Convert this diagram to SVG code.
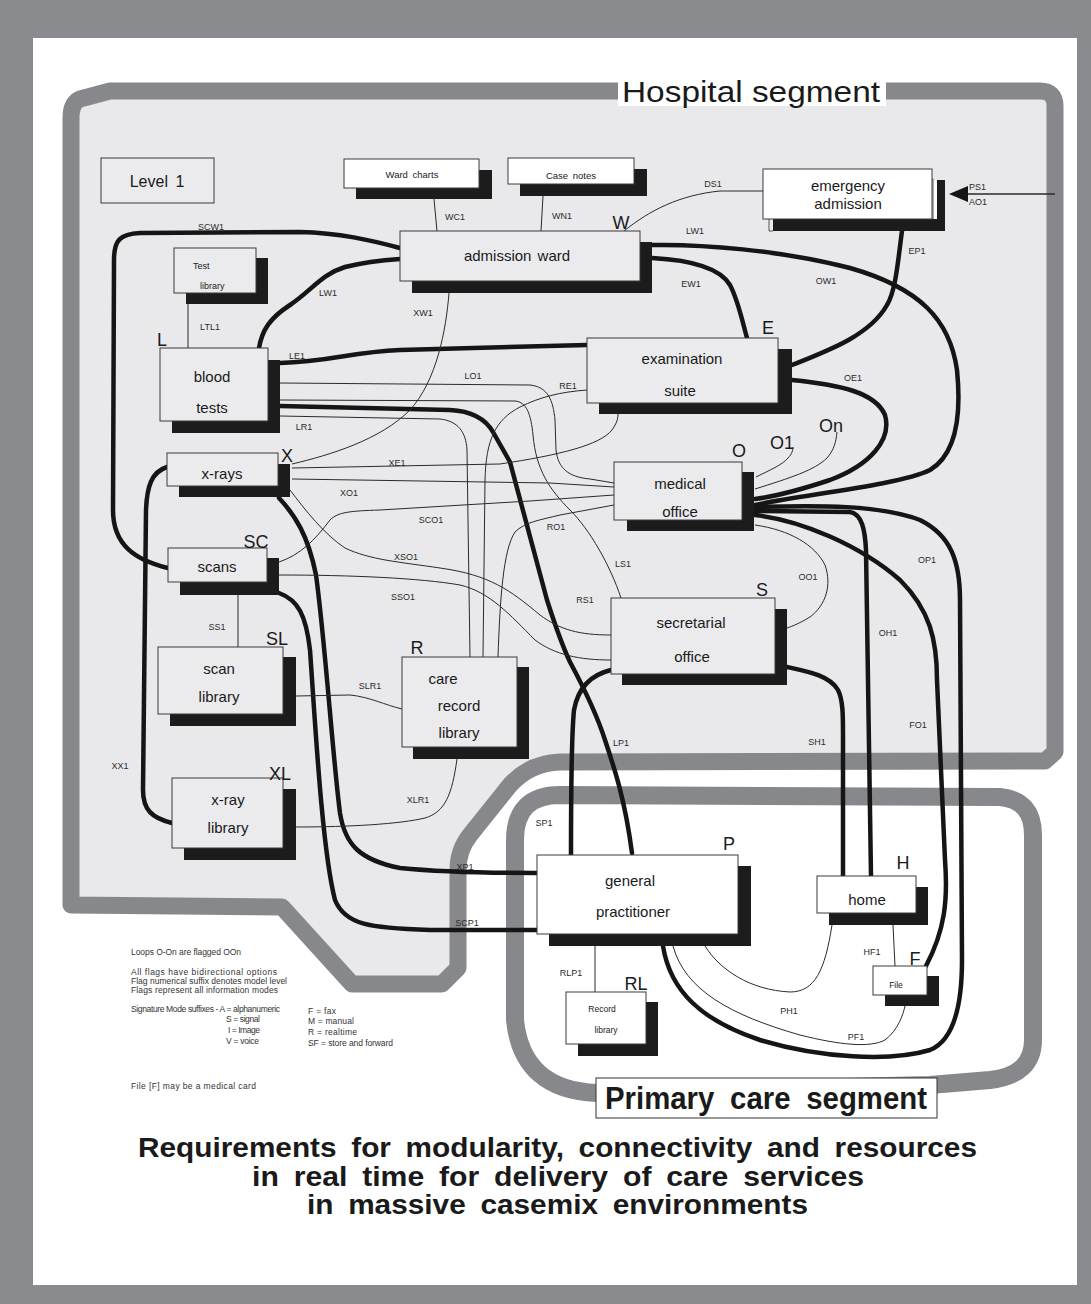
<svg xmlns="http://www.w3.org/2000/svg" width="1091" height="1304" viewBox="0 0 1091 1304">
<defs>
<style>
.box{fill:#ebebee;stroke:#3a3a3a;stroke-width:1}
.wbox{fill:#ffffff;stroke:#3a3a3a;stroke-width:1}
.sh{fill:#1c1c1c}
.thick{fill:none;stroke:#151515;stroke-width:4.5;stroke-linecap:round;stroke-linejoin:round}
.thin{fill:none;stroke:#2a2a2a;stroke-width:1}
text{font-family:"Liberation Sans",Arial,sans-serif;fill:#1a1a1a}
.n{font-size:15px;text-anchor:middle;word-spacing:2px}
.s{font-size:9.5px;text-anchor:middle;word-spacing:2px}
.id{font-size:18px;text-anchor:middle}
.lb{font-size:9px;text-anchor:middle;fill:#2a2a2a}
.lg{font-size:8.5px;fill:#333}
.tt{font-size:28px;font-weight:bold;word-spacing:6px}
.seg{stroke:#87888c;fill:none;stroke-linejoin:round}
</style>
</defs>
<rect width="1091" height="1304" fill="#8a8b8f"/>
<rect x="33" y="38" width="1044" height="1247" fill="#ffffff"/>

<g id="hospital-segment">
<path class="seg" d="M110,91 L1040,91 Q1055,91 1055,106 L1055,752 L1045,761 L560,762 Q530,763 510,785 L470,835 Q458,850 458,870 L458,968 L442,984 L352,984 L282,907 L71,905 L71,118 Q71,103 80,99 Z" style="fill:#e9e9ec;stroke-width:17"/>
<rect x="618" y="74" width="268" height="32" fill="#ffffff"/>
<text x="622" y="102" font-size="30" textLength="258" lengthAdjust="spacingAndGlyphs">Hospital segment</text>
</g>

<g id="primary-care-segment">
<path class="seg" d="M560,795 L1000,797 Q1033,800 1033,835 L1033,1040 Q1033,1075 990,1080 L930,1085 L597,1093 Q522,1090 515,1020 L515,840 Q515,795 560,795 Z" style="fill:#ffffff;stroke-width:18"/>
<rect x="596" y="1078" width="341" height="40" fill="#ffffff" stroke="#333" stroke-width="1"/>
<text x="605" y="1109" font-size="31" font-weight="bold" word-spacing="8" textLength="322" lengthAdjust="spacingAndGlyphs">Primary care segment</text>
</g>

<g id="connectors">
<path class="thick" d="M400,248 C370,240 340,233 300,232 L140,233 C120,234 114,240 114,260 L113,510 C113,545 135,560 168,568"/>
<path class="thick" d="M259,348 C262,330 270,318 290,305 C312,290 322,274 345,267 C365,262 385,260 400,259"/>
<path class="thick" d="M280,363 C330,362 350,352 400,350 L587,345"/>
<path class="thick" d="M280,406 L450,410 C470,411 485,418 493,432 L510,462 L547,600 C555,625 562,645 570,662 C585,690 597,715 605,740 C615,770 625,800 632,853"/>
<path class="thick" d="M652,258 C690,260 720,268 730,285 C738,300 742,320 747,338"/>
<path class="thick" d="M652,245 C700,244 780,250 850,268 C920,288 950,320 957,370 C962,420 955,455 930,470 C900,485 800,495 755,505"/>
<path class="thick" d="M902,231 C898,260 896,290 887,305 C870,335 830,350 792,365"/>
<path class="thick" d="M792,380 C840,385 875,392 885,415 C892,440 870,465 830,480 C800,490 770,497 755,499"/>
<path class="thick" d="M755,507 C820,505 880,505 920,520 C950,535 960,560 960,600 L962,960 C962,1000 955,1040 930,1050 C890,1062 820,1058 760,1040 C700,1020 670,990 663,946"/>
<path class="thick" d="M755,515 C800,520 860,545 900,580 C930,610 937,640 937,680 L945,860 C948,900 945,930 926,966"/>
<path class="thick" d="M755,511 L850,512 C862,514 865,530 866,550 L871,876"/>
<path class="thick" d="M787,667 C810,672 830,676 838,690 C843,700 843,715 843,735 L843,876"/>
<path class="thick" d="M611,670 C590,675 578,688 574,710 C571,740 571,800 571,855"/>
<path class="thick" d="M167,467 C152,472 147,485 146,510 L143,790 C143,810 152,818 172,823"/>
<path class="thick" d="M279,498 C295,515 308,535 316,575 C325,640 333,760 340,813 C345,845 360,860 400,868 C440,872 500,873 537,873"/>
<path class="thick" d="M279,593 C298,600 306,615 310,650 C315,720 322,850 335,900 C345,925 370,928 430,930 L537,930"/>

<path class="thin" d="M434,199 L437,231"/>
<path class="thin" d="M543,196 L541,231"/>
<path class="thin" d="M624,231 C650,210 680,195 720,191 L763,191"/>
<path class="thin" d="M449,293 C446,330 437,380 410,410 C380,440 330,455 292,464"/>
<path class="thin" d="M188,304 L188,348"/>
<path class="thin" d="M280,383 L530,385 C548,387 553,400 555,420 L556,450 C558,468 568,477 590,479 L614,483"/>
<path class="thin" d="M280,400 L515,401 C527,402 531,415 533,435 C536,470 550,490 570,510 C590,530 610,565 621,598"/>
<path class="thin" d="M280,416 L440,419 C458,421 466,432 467,450 L470,657"/>
<path class="thin" d="M483,657 L485,480 C486,440 495,420 520,407 C540,397 560,392 587,390"/>
<path class="thin" d="M498,657 C500,600 503,550 515,532 C525,522 540,520 560,515 L614,505"/>
<path class="thin" d="M292,468 L500,464 C560,455 600,445 612,430 C616,424 618,420 618,414"/>
<path class="thin" d="M292,479 L550,483 L614,487"/>
<path class="thin" d="M279,562 C300,555 315,540 330,520 C338,512 350,511 380,510 L530,501 L614,495"/>
<path class="thin" d="M290,490 C305,510 325,535 345,548 C370,560 400,562 440,568 C490,575 510,590 540,615 C560,630 580,635 611,635"/>
<path class="thin" d="M279,575 C350,575 420,578 460,585 C490,592 510,615 535,640 C555,655 580,660 611,660"/>
<path class="thin" d="M755,525 C790,530 815,545 825,565 C832,585 826,605 810,617 C800,623 793,626 787,628"/>
<path class="thin" d="M756,477 C770,470 782,465 788,458 C792,454 793,450 793,447"/>
<path class="thin" d="M755,489 C790,478 815,470 827,458 C834,450 836,442 837,432"/>
<path class="thin" d="M296,696 L350,695 C370,697 385,705 402,709"/>
<path class="thin" d="M296,827 C350,827 400,824 425,818 C445,812 452,795 457,759"/>
<path class="thin" d="M238,595 L238,647"/>
<path class="thin" d="M595,946 L595,992"/>
<path class="thin" d="M893,925 L895,966"/>
<path class="thin" d="M705,946 C720,970 750,990 790,992 C815,992 825,970 832,925"/>
<path class="thin" d="M673,946 C685,990 730,1015 800,1035 C840,1045 870,1048 885,1040 C898,1030 903,1015 905,1006"/>
<path class="thin" d="M1055,194 L966,194" style="stroke-width:1.5"/>
<polygon points="949,194 968,186 968,202" fill="#151515"/>
</g>

<g id="connector-labels">
<text class="lb" x="455" y="220">WC1</text>
<text class="lb" x="562" y="219">WN1</text>
<text class="lb" x="713" y="187">DS1</text>
<text class="lb" x="695" y="234">LW1</text>
<text class="lb" x="691" y="287">EW1</text>
<text class="lb" x="826" y="284">OW1</text>
<text class="lb" x="917" y="254">EP1</text>
<text class="lb" x="211" y="230">SCW1</text>
<text class="lb" x="328" y="296">LW1</text>
<text class="lb" x="423" y="316">XW1</text>
<text class="lb" x="210" y="330">LTL1</text>
<text class="lb" x="297" y="359">LE1</text>
<text class="lb" x="473" y="379">LO1</text>
<text class="lb" x="568" y="389">RE1</text>
<text class="lb" x="304" y="430">LR1</text>
<text class="lb" x="853" y="381">OE1</text>
<text class="lb" x="397" y="466">XE1</text>
<text class="lb" x="349" y="496">XO1</text>
<text class="lb" x="431" y="523">SCO1</text>
<text class="lb" x="556" y="530">RO1</text>
<text class="lb" x="406" y="560">XSO1</text>
<text class="lb" x="623" y="567">LS1</text>
<text class="lb" x="927" y="563">OP1</text>
<text class="lb" x="808" y="580">OO1</text>
<text class="lb" x="403" y="600">SSO1</text>
<text class="lb" x="585" y="603">RS1</text>
<text class="lb" x="217" y="630">SS1</text>
<text class="lb" x="888" y="636">OH1</text>
<text class="lb" x="370" y="689">SLR1</text>
<text class="lb" x="918" y="728">FO1</text>
<text class="lb" x="817" y="745">SH1</text>
<text class="lb" x="621" y="746">LP1</text>
<text class="lb" x="120" y="769">XX1</text>
<text class="lb" x="418" y="803">XLR1</text>
<text class="lb" x="544" y="826">SP1</text>
<text class="lb" x="465" y="870">XP1</text>
<text class="lb" x="467" y="926">SCP1</text>
<text class="lb" x="571" y="976">RLP1</text>
<text class="lb" x="872" y="955">HF1</text>
<text class="lb" x="789" y="1014">PH1</text>
<text class="lb" x="856" y="1040">PF1</text>
<text class="lb" x="969" y="190" style="text-anchor:start">PS1</text>
<text class="lb" x="969" y="205" style="text-anchor:start">AO1</text>
</g>

<g id="level-1">
<rect class="box" x="101" y="158" width="113" height="45"/>
<text x="157" y="187" font-size="16" text-anchor="middle" word-spacing="3">Level 1</text>
</g>

<g id="ward-charts">
<rect class="sh" x="356" y="170" width="136" height="29"/>
<rect class="wbox" x="344" y="159" width="135" height="29"/>
<text class="s" x="412" y="178">Ward charts</text>
</g>

<g id="case-notes">
<rect class="sh" x="520" y="169" width="127" height="27"/>
<rect class="wbox" x="508" y="158" width="126" height="26"/>
<text class="s" x="571" y="179">Case notes</text>
</g>

<g id="admission-ward">
<rect class="sh" x="412" y="242" width="240" height="51"/>
<rect class="box" x="400" y="231" width="240" height="50"/>
<text class="n" x="517" y="261">admission ward</text>
<text class="id" x="621" y="229">W</text>
</g>

<g id="emergency-admission">
<rect class="sh" x="773" y="180" width="172" height="51"/>
<rect x="932" y="180" width="5" height="39" fill="#ffffff"/>
<path d="M769,219 V231 H773 M924,179 H933 V219" fill="none" stroke="#555" stroke-width="1"/>
<rect class="wbox" x="763" y="169" width="169" height="50"/>
<text class="n" x="848" y="191">emergency</text>
<text class="n" x="848" y="209">admission</text>
</g>

<g id="test-library">
<rect class="sh" x="186" y="258" width="82" height="46"/>
<rect class="box" x="174" y="248" width="82" height="45"/>
<text x="193" y="269" font-size="9">Test</text>
<text x="200" y="289" font-size="9">library</text>
</g>

<g id="blood-tests">
<rect class="sh" x="172" y="360" width="108" height="73"/>
<rect class="box" x="160" y="348" width="108" height="73"/>
<text class="n" x="212" y="382">blood</text>
<text class="n" x="212" y="413">tests</text>
<text class="id" x="162" y="346">L</text>
</g>

<g id="examination-suite">
<rect class="sh" x="599" y="349" width="193" height="65"/>
<rect class="box" x="587" y="338" width="191" height="65"/>
<text class="n" x="682" y="364">examination</text>
<text class="n" x="680" y="396">suite</text>
<text class="id" x="768" y="334">E</text>
</g>

<g id="x-rays">
<rect class="sh" x="179" y="464" width="111" height="33"/>
<rect class="box" x="167" y="453" width="111" height="33"/>
<text class="n" x="222" y="479">x-rays</text>
<text class="id" x="287" y="462">X</text>
</g>

<g id="medical-office">
<rect class="sh" x="627" y="472" width="127" height="59"/>
<rect class="box" x="614" y="462" width="128" height="58"/>
<text class="n" x="680" y="489">medical</text>
<text class="n" x="680" y="517">office</text>
<text class="id" x="739" y="457">O</text>
<text class="id" x="782" y="449">O1</text>
<text class="id" x="831" y="432">On</text>
</g>

<g id="scans">
<rect class="sh" x="180" y="558" width="99" height="37"/>
<rect class="box" x="168" y="548" width="99" height="34"/>
<text class="n" x="217" y="572">scans</text>
<text class="id" x="256" y="548">SC</text>
</g>

<g id="secretarial-office">
<rect class="sh" x="622" y="609" width="165" height="76"/>
<rect class="box" x="611" y="598" width="164" height="76"/>
<text class="n" x="691" y="628">secretarial</text>
<text class="n" x="692" y="662">office</text>
<text class="id" x="762" y="596">S</text>
</g>

<g id="scan-library">
<rect class="sh" x="170" y="657" width="126" height="69"/>
<rect class="box" x="158" y="647" width="125" height="67"/>
<text class="n" x="219" y="674">scan</text>
<text class="n" x="219" y="702">library</text>
<text class="id" x="277" y="645">SL</text>
</g>

<g id="care-record-library">
<rect class="sh" x="413" y="667" width="116" height="92"/>
<rect class="box" x="402" y="657" width="115" height="90"/>
<text class="n" x="443" y="684">care</text>
<text class="n" x="459" y="711">record</text>
<text class="n" x="459" y="738">library</text>
<text class="id" x="417" y="654">R</text>
</g>

<g id="x-ray-library">
<rect class="sh" x="184" y="789" width="112" height="71"/>
<rect class="box" x="172" y="778" width="111" height="70"/>
<text class="n" x="228" y="805">x-ray</text>
<text class="n" x="228" y="833">library</text>
<text class="id" x="280" y="780">XL</text>
</g>

<g id="general-practitioner">
<rect class="sh" x="549" y="866" width="202" height="80"/>
<rect class="wbox" x="537" y="855" width="201" height="79"/>
<text class="n" x="630" y="886">general</text>
<text class="n" x="633" y="917">practitioner</text>
<text class="id" x="729" y="850">P</text>
</g>

<g id="home">
<rect class="sh" x="829" y="887" width="99" height="38"/>
<rect class="wbox" x="817" y="876" width="99" height="37"/>
<text class="n" x="867" y="905">home</text>
<text class="id" x="903" y="869">H</text>
</g>

<g id="file">
<rect class="sh" x="885" y="976" width="54" height="30"/>
<rect class="wbox" x="873" y="966" width="54" height="29"/>
<text x="896" y="988" font-size="8.5" text-anchor="middle">File</text>
<text class="id" x="915" y="965">F</text>
</g>

<g id="record-library">
<rect class="sh" x="578" y="1002" width="80" height="54"/>
<rect class="wbox" x="566" y="992" width="80" height="52"/>
<text x="602" y="1012" font-size="8.5" text-anchor="middle">Record</text>
<text x="606" y="1033" font-size="8.5" text-anchor="middle">library</text>
<text class="id" x="636" y="990">RL</text>
</g>

<g id="legend">
<text class="lg" x="131" y="955" textLength="110">Loops O-On are flagged OOn</text>
<text class="lg" x="131" y="975" textLength="146">All flags have bidirectional options</text>
<text class="lg" x="131" y="984" textLength="156">Flag numerical suffix denotes model level</text>
<text class="lg" x="131" y="993" textLength="147">Flags represent all information modes</text>
<text class="lg" x="131" y="1012" textLength="149">Signature Mode suffixes - A = alphanumeric</text>
<text class="lg" x="226" y="1022" textLength="34">S = signal</text>
<text class="lg" x="228" y="1033" textLength="32">I = Image</text>
<text class="lg" x="226" y="1044" textLength="33">V = voice</text>
<text class="lg" x="308" y="1014" textLength="28">F = fax</text>
<text class="lg" x="308" y="1024" textLength="46">M = manual</text>
<text class="lg" x="308" y="1035" textLength="49">R = realtime</text>
<text class="lg" x="308" y="1046" textLength="85">SF = store and forward</text>
<text class="lg" x="131" y="1089" textLength="125">File [F] may be a medical card</text>
</g>

<g id="title">
<text class="tt" x="138" y="1157" textLength="839" lengthAdjust="spacingAndGlyphs">Requirements for modularity, connectivity and resources</text>
<text class="tt" x="252" y="1186" textLength="612" lengthAdjust="spacingAndGlyphs">in real time for delivery of care services</text>
<text class="tt" x="307" y="1214" textLength="501" lengthAdjust="spacingAndGlyphs">in massive casemix environments</text>
</g>
</svg>
